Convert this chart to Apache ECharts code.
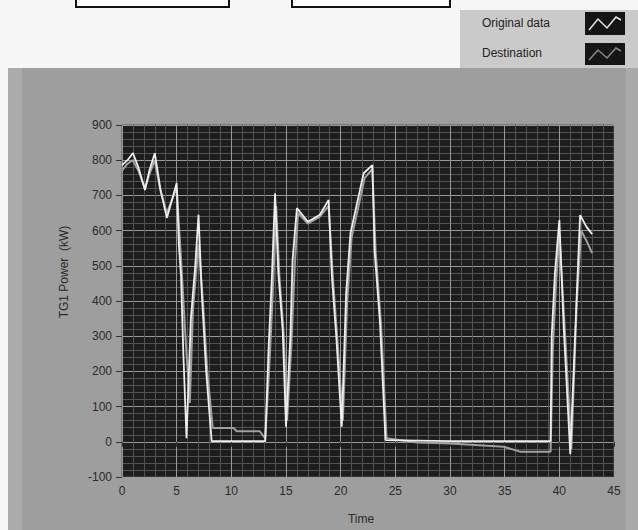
<!DOCTYPE html>
<html>
<head>
<meta charset="utf-8">
<script src="https://cdn.jsdelivr.net/npm/echarts@6/dist/echarts.min.js"></script>
<style>
  html, body { margin: 0; padding: 0; background: #f7f7f7; }
  #main { width: 638px; height: 530px; }
</style>
</head>
<body>
<div id="main"></div>
<script>
// data (time, TG1 power in kW)
var origTime = [0, 0.5, 1, 1.5, 2.1, 2.5, 3, 3.5, 4.1, 4.6, 5, 5.2, 5.4, 5.6, 5.9, 6.3, 6.7, 7, 7.3, 7.7, 8.2,
  13.1, 13.4, 13.7, 14, 14.3, 14.7, 15, 15.4, 15.6, 16, 17, 18.1, 18.9, 19.2, 19.6, 20.1, 20.5, 20.9,
  21.5, 22.1, 22.9, 23.1, 23.6, 24.1, 30, 39.2, 39.3, 39.6, 40, 40.4, 41, 41.6, 41.9, 42.5, 43];
var origPower = [786, 800, 820, 780, 715, 770, 820, 720, 636, 690, 735, 560, 470, 260, 10, 350, 500, 645, 420, 200, 2,
  2, 260, 460, 706, 480, 318, 43, 298, 516, 664, 625, 645, 687, 469, 299, 43, 422, 593,
  678, 763, 786, 545, 337, 5, 2, 2, 300, 480, 630, 327, -35, 422, 644, 610, 590];

var destTime = [0, 0.5, 1, 1.5, 2.1, 2.5, 3, 3.5, 4.1, 4.6, 5, 5.4, 5.8, 6.2, 6.5, 7, 7.4, 7.8, 8.3, 10.2,
  10.5, 12.6, 13.1, 13.5, 13.8, 14.1, 14.4, 14.8, 15.1, 15.5, 15.8, 16.1, 17, 18.1, 18.9, 19.3, 19.7,
  20.2, 20.6, 21, 21.6, 22.2, 22.9, 23.2, 23.7, 24.2, 27, 30, 34.9, 36.4, 39.2, 39.4, 39.7, 40, 40.5,
  41.1, 41.6, 42, 42.5, 43];
var destPower = [770, 790, 800, 770, 720, 760, 800, 715, 650, 690, 720, 520, 300, 110, 380, 560, 400, 200, 39, 39,
  30, 30, 10, 230, 430, 670, 470, 300, 60, 280, 500, 650, 620, 640, 670, 460, 290,
  60, 400, 580, 665, 750, 775, 540, 330, 10, -2, -5, -14, -28, -28, 260, 450, 590, 320,
  -20, 400, 600, 570, 536];

var seriesNames = ["Original data", "Destination"];

function pairs(xs, ys) {
  var out = [];
  for (var i = 0; i < xs.length; i++) out.push([xs[i], ys[i]]);
  return out;
}

var myChart = echarts.init(document.getElementById("main"), null, { renderer: "svg" });

var labelFont = "Liberation Sans";

var option = {
  backgroundColor: "#f7f7f7",
  animation: false,
  grid: {
    left: 122,
    right: 24,
    top: 125,
    bottom: 53,
    show: true,
    backgroundColor: "#1d1d1d",
    borderColor: "#555",
    borderWidth: 1
  },
  xAxis: {
    type: "value",
    min: 0,
    max: 45,
    interval: 5,
    name: "Time",
    nameLocation: "middle",
    nameGap: 36,
    nameTextStyle: { color: "#2a2a2a", fontSize: 12, fontFamily: labelFont, padding: [0, 14, 0, 0] },
    axisLine: { show: false },
    axisTick: { show: true, inside: false, length: 5, lineStyle: { color: "#333" } },
    axisLabel: { color: "#2a2a2a", fontSize: 12, fontFamily: labelFont, margin: 8 },
    splitLine: { show: true, lineStyle: { color: "#999", width: 1 } },
    minorTick: { show: false, splitNumber: 5 },
    minorSplitLine: { show: true, lineStyle: { color: "#525252", width: 1 } }
  },
  yAxis: {
    type: "value",
    min: -100,
    max: 900,
    interval: 100,
    name: "TG1 Power  (kW)",
    nameLocation: "middle",
    nameGap: 52,
    nameTextStyle: { color: "#2a2a2a", fontSize: 12, fontFamily: labelFont, padding: [0, 0, 0, 58] },
    axisLine: { show: false },
    axisTick: { show: true, inside: false, length: 6, lineStyle: { color: "#333" } },
    axisLabel: { color: "#2a2a2a", fontSize: 12, fontFamily: labelFont, margin: 10 },
    splitLine: { show: true, lineStyle: { color: "#999", width: 1 } },
    minorTick: { show: false, splitNumber: 5 },
    minorSplitLine: { show: true, lineStyle: { color: "#525252", width: 1 } }
  },
  graphic: [
    // gray panel behind the plot
    { type: "rect", z: -10, shape: { x: 8, y: 68, width: 630, height: 462 }, style: { fill: "#9e9e9e" } },
    { type: "rect", z: -9, shape: { x: 8, y: 68, width: 14, height: 462 }, style: { fill: "#ababab" } },
    { type: "rect", z: -9, shape: { x: 626, y: 68, width: 12, height: 462 }, style: { fill: "#a9a9a9" } },
    // cut off boxes at the very top
    { type: "rect", z: -9, shape: { x: 76, y: -4, width: 153, height: 11 }, style: { fill: "#fff", stroke: "#111", lineWidth: 2 } },
    { type: "rect", z: -9, shape: { x: 292, y: -4, width: 158, height: 11 }, style: { fill: "#fff", stroke: "#111", lineWidth: 2 } },
    // legend box
    { type: "rect", z: -8, shape: { x: 460, y: 10, width: 178, height: 58 }, style: { fill: "#cacaca" } },
    { type: "text", left: 482, top: 17, style: { text: seriesNames[0], fill: "#222", font: "12px " + labelFont } },
    { type: "text", left: 482, top: 47, style: { text: seriesNames[1], fill: "#222", font: "12px " + labelFont } },
    { type: "rect", shape: { x: 585, y: 12, width: 40, height: 23 }, style: { fill: "#151515" } },
    { type: "rect", shape: { x: 585, y: 43, width: 40, height: 22 }, style: { fill: "#151515" } },
    { type: "polyline", shape: { points: [[589, 30], [598, 19], [607, 28], [616, 17], [621, 20]] }, style: { stroke: "#e8e8e8", lineWidth: 1.5, fill: null } },
    { type: "polyline", shape: { points: [[589, 60], [598, 50], [607, 58], [616, 48], [621, 51]] }, style: { stroke: "#8a8a8a", lineWidth: 1.5, fill: null } }
  ],
  series: [
    {
      name: seriesNames[1],
      type: "line",
      data: pairs(destTime, destPower),
      showSymbol: false,
      lineStyle: { color: "#a0a0a0", width: 2 },
      z: 2
    },
    {
      name: seriesNames[0],
      type: "line",
      data: pairs(origTime, origPower),
      showSymbol: false,
      lineStyle: { color: "#eeeeee", width: 1.8 },
      z: 3
    }
  ]
};

myChart.setOption(option);
</script>
</body>
</html>
